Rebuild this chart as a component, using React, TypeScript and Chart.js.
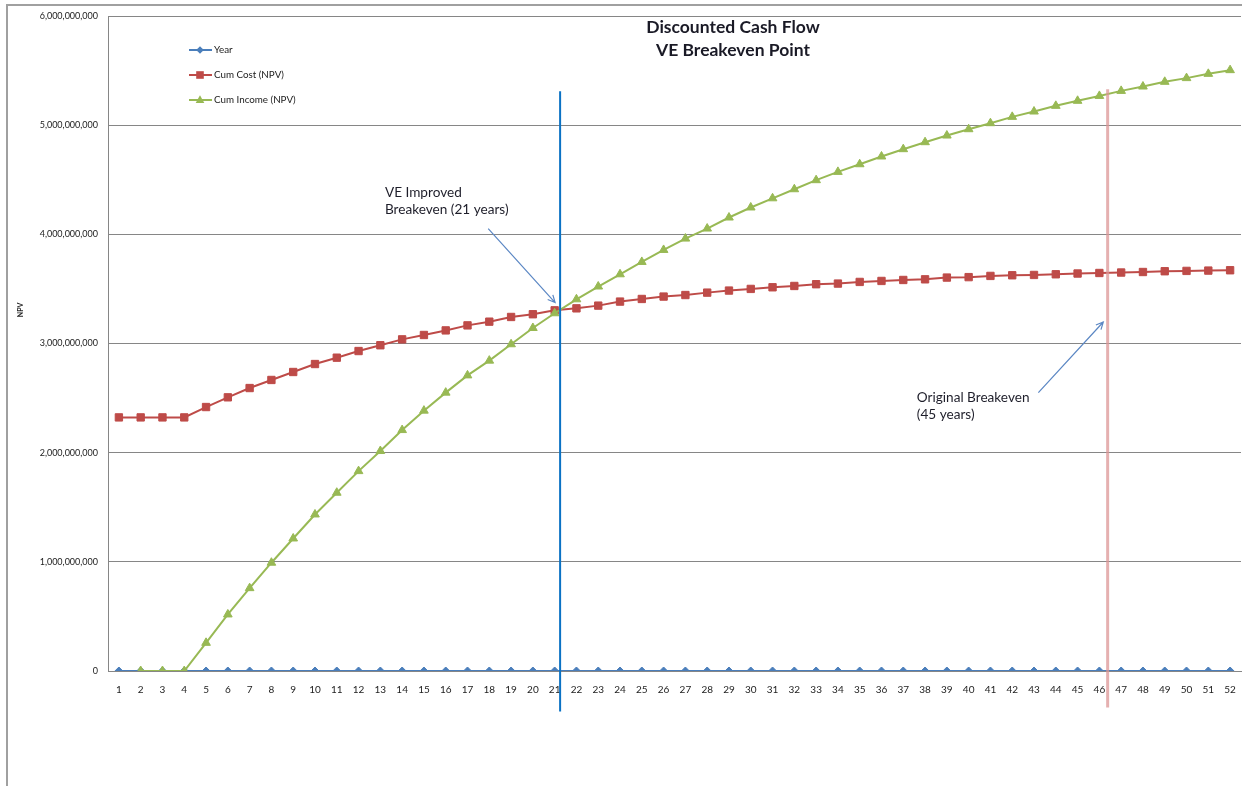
import React, { useEffect, useRef } from "react";
import { Chart, registerables } from "chart.js";

Chart.register(...registerables);

const categories = [
  "1", "2", "3", "4", "5", "6", "7", "8", "9", "10", "11", "12", "13",
  "14", "15", "16", "17", "18", "19", "20", "21", "22", "23", "24", "25", "26",
  "27", "28", "29", "30", "31", "32", "33", "34", "35", "36", "37", "38", "39",
  "40", "41", "42", "43", "44", "45", "46", "47", "48", "49", "50", "51", "52",
];

const yearValues = [
  1, 2, 3, 4, 5, 6, 7, 8, 9, 10, 11, 12, 13, 14, 15, 16, 17, 18, 19, 20, 21, 22, 23, 24, 25, 26,
  27, 28, 29, 30, 31, 32, 33, 34, 35, 36, 37, 38, 39, 40, 41, 42, 43, 44, 45, 46, 47, 48, 49, 50, 51, 52,
];

const cumCost = [
  2.323e9, 2.323e9, 2.323e9, 2.323e9, 2.418e9, 2.507e9, 2.592e9, 2.666e9, 2.739e9, 2.812e9,
  2.87e9, 2.931e9, 2.984e9, 3.038e9, 3.078e9, 3.12e9, 3.166e9, 3.2e9, 3.243e9, 3.268e9,
  3.304e9, 3.322e9, 3.347e9, 3.384e9, 3.408e9, 3.43e9, 3.444e9, 3.466e9, 3.485e9, 3.5e9,
  3.515e9, 3.527e9, 3.543e9, 3.549e9, 3.564e9, 3.573e9, 3.582e9, 3.588e9, 3.604e9, 3.608e9,
  3.619e9, 3.625e9, 3.628e9, 3.634e9, 3.641e9, 3.646e9, 3.65e9, 3.655e9, 3.662e9, 3.665e9,
  3.668e9, 3.671e9,
];

const cumIncome = [
  null, 0, 0, 0, 0.258e9, 0.518e9, 0.759e9, 0.992e9, 1.214e9, 1.434e9,
  1.633e9, 1.831e9, 2.015e9, 2.207e9, 2.385e9, 2.55e9, 2.708e9, 2.843e9, 2.993e9, 3.142e9,
  3.277e9, 3.405e9, 3.522e9, 3.634e9, 3.747e9, 3.857e9, 3.961e9, 4.053e9, 4.154e9, 4.246e9,
  4.33e9, 4.413e9, 4.496e9, 4.572e9, 4.642e9, 4.713e9, 4.78e9, 4.844e9, 4.905e9, 4.963e9,
  5.018e9, 5.076e9, 5.125e9, 5.177e9, 5.223e9, 5.268e9, 5.314e9, 5.354e9, 5.397e9, 5.431e9,
  5.47e9, 5.504e9,
];

const seriesNames = ["Year", "Cum Cost (NPV)", "Cum Income (NPV)"];
const titleLines = ["Discounted Cash Flow", "VE Breakeven Point"];
const yAxisTitle = "NPV";

// Reference lines: [category index (0-based, fractional), top value, bottom value]
const improvedLine = [20.25, 5.31e9, -0.371e9];
const originalLine = [45.38, 5.33e9, -0.335e9];

// Annotation texts: lines, category index (left edge), values (per line centre)
const improvedText = ["VE Improved", "Breakeven (21 years)"];
const improvedTextPos = [12.21, 4.386e9, 4.23e9];
const originalText = ["Original Breakeven", "(45 years)"];
const originalTextPos = [36.62, 2.504e9, 2.351e9];

// Arrows: [fromIndex, fromValue, toIndex, toValue]
const improvedArrow = [16.95, 4.053e9, 20.02, 3.375e9];
const originalArrow = [42.2, 2.55e9, 45.18, 3.197e9];

const BLUE = "#4a7ebb";
const RED = "#be4b48";
const GREEN = "#98b954";
const FONT = "Lato";

function drawMarker(ctx: CanvasRenderingContext2D, style: string, x: number, y: number, r: number, color: string) {
  ctx.save();
  ctx.fillStyle = color;
  ctx.beginPath();
  if (style === "diamond") {
    ctx.moveTo(x, y - r);
    ctx.lineTo(x + r, y);
    ctx.lineTo(x, y + r);
    ctx.lineTo(x - r, y);
  } else if (style === "square") {
    ctx.rect(x - r, y - r, 2 * r, 2 * r);
  } else {
    ctx.moveTo(x, y - r);
    ctx.lineTo(x + r * 0.9, y + r * 0.6);
    ctx.lineTo(x - r * 0.9, y + r * 0.6);
  }
  ctx.closePath();
  ctx.fill();
  ctx.restore();
}

function drawArrow(ctx: CanvasRenderingContext2D, x1: number, y1: number, x2: number, y2: number) {
  ctx.save();
  ctx.strokeStyle = "#5b87c4";
  ctx.lineWidth = 1.2;
  ctx.beginPath();
  ctx.moveTo(x1, y1);
  ctx.lineTo(x2, y2);
  const ang = Math.atan2(y2 - y1, x2 - x1);
  const len = 8;
  const spread = 0.45;
  ctx.moveTo(x2 - len * Math.cos(ang - spread), y2 - len * Math.sin(ang - spread));
  ctx.lineTo(x2, y2);
  ctx.lineTo(x2 - len * Math.cos(ang + spread), y2 - len * Math.sin(ang + spread));
  ctx.stroke();
  ctx.restore();
}

const overlayPlugin = {
  id: "overlay",
  beforeDraw(chart: any) {
    const ctx = chart.ctx as CanvasRenderingContext2D;
    ctx.save();
    ctx.fillStyle = "#ffffff";
    ctx.fillRect(0, 0, chart.width, chart.height);
    ctx.strokeStyle = "#a0a0a0";
    ctx.lineWidth = 2;
    ctx.strokeRect(7, 5, chart.width + 50, chart.height + 50);
    ctx.restore();
  },
  afterDatasetsDraw(chart: any) {
    const ctx = chart.ctx as CanvasRenderingContext2D;
    const xs = chart.scales.x;
    const ys = chart.scales.y;
    const area = chart.chartArea;

    // vertical reference lines
    ctx.save();
    ctx.strokeStyle = "rgba(220,150,150,0.75)";
    ctx.lineWidth = 3;
    ctx.beginPath();
    const px2 = xs.getPixelForValue(originalLine[0]);
    ctx.moveTo(px2, ys.getPixelForValue(originalLine[1]));
    ctx.lineTo(px2, ys.getPixelForValue(originalLine[2]));
    ctx.stroke();
    ctx.strokeStyle = "#0b72c4";
    ctx.lineWidth = 2;
    ctx.beginPath();
    const px1 = xs.getPixelForValue(improvedLine[0]);
    ctx.moveTo(px1, ys.getPixelForValue(improvedLine[1]));
    ctx.lineTo(px1, ys.getPixelForValue(improvedLine[2]));
    ctx.stroke();
    ctx.restore();

    // arrows
    for (const a of [improvedArrow, originalArrow]) {
      drawArrow(
        ctx,
        xs.getPixelForValue(a[0]),
        ys.getPixelForValue(a[1]),
        xs.getPixelForValue(a[2]),
        ys.getPixelForValue(a[3])
      );
    }

    // annotation texts
    ctx.save();
    ctx.fillStyle = "#1e1e2a";
    ctx.font = `13.6px ${FONT}`;
    ctx.textAlign = "left";
    ctx.textBaseline = "middle";
    const texts: [string[], number[]][] = [
      [improvedText, improvedTextPos],
      [originalText, originalTextPos],
    ];
    for (const [lines, pos] of texts) {
      const x = xs.getPixelForValue(pos[0]);
      lines.forEach((t, i) => ctx.fillText(t, x, ys.getPixelForValue(pos[1 + i])));
    }
    ctx.restore();

    // title
    ctx.save();
    ctx.fillStyle = "#1a1a26";
    ctx.font = `bold 17.5px ${FONT}`;
    ctx.textAlign = "center";
    ctx.textBaseline = "middle";
    ctx.fillText(titleLines[0], 733, area.top + 11);
    ctx.fillText(titleLines[1], 733, area.top + 34);
    ctx.restore();

    // legend
    const colors = [BLUE, RED, GREEN];
    const markers = ["diamond", "square", "triangle"];
    const radii = [3.8, 3.8, 4.8];
    ctx.save();
    ctx.font = `9.8px ${FONT}`;
    ctx.textBaseline = "middle";
    ctx.textAlign = "left";
    seriesNames.forEach((name, i) => {
      const y = area.top + 34 + i * 25;
      ctx.strokeStyle = colors[i];
      ctx.lineWidth = 2;
      ctx.beginPath();
      ctx.moveTo(189, y);
      ctx.lineTo(212, y);
      ctx.stroke();
      drawMarker(ctx, markers[i], 200, y, radii[i], colors[i]);
      ctx.fillStyle = "#222";
      ctx.fillText(name, 214, y);
    });
    ctx.restore();

    // y axis title
    ctx.save();
    ctx.fillStyle = "#222";
    ctx.font = `bold 7px ${FONT}`;
    ctx.translate(21, 310);
    ctx.rotate(-Math.PI / 2);
    ctx.textAlign = "center";
    ctx.textBaseline = "middle";
    ctx.fillText(yAxisTitle, 0, 0);
    ctx.restore();
  },
};

export default function App() {
  const canvasRef = useRef<HTMLCanvasElement | null>(null);

  useEffect(() => {
    const canvas = canvasRef.current;
    if (!canvas) return;
    const chart = new Chart(canvas, {
      type: "line",
      data: {
        labels: categories,
        datasets: [
          {
            label: seriesNames[0],
            data: yearValues,
            borderColor: BLUE,
            backgroundColor: BLUE,
            borderWidth: 2,
            pointStyle: "rectRot",
            pointRadius: 4,
            pointBorderWidth: 1,
            pointBackgroundColor: BLUE,
            pointBorderColor: BLUE,
            order: 3,
          },
          {
            label: seriesNames[1],
            data: cumCost,
            borderColor: RED,
            backgroundColor: RED,
            borderWidth: 2,
            pointStyle: "rect",
            pointRadius: 5.2,
            pointBorderWidth: 1,
            pointBackgroundColor: RED,
            pointBorderColor: RED,
            order: 2,
          },
          {
            label: seriesNames[2],
            data: cumIncome,
            borderColor: GREEN,
            backgroundColor: GREEN,
            borderWidth: 2,
            pointStyle: "triangle",
            pointRadius: 5,
            pointBorderWidth: 1,
            pointBackgroundColor: GREEN,
            pointBorderColor: GREEN,
            spanGaps: false,
            order: 1,
          },
        ],
      },
      options: {
        responsive: false,
        animation: false,
        devicePixelRatio: 1,
        layout: { autoPadding: false, padding: { left: 0, top: 16, right: 1, bottom: 0 } },
        plugins: {
          legend: { display: false },
          tooltip: { enabled: false },
          title: { display: false },
        },
        scales: {
          x: {
            type: "category",
            offset: true,
            grid: {
              display: true,
              drawOnChartArea: false,
              drawTicks: true,
              tickLength: 13,
              tickColor: "rgba(0,0,0,0)",
            },
            border: { display: true, color: "#868686", width: 1 },
            ticks: {
              color: "#222",
              font: { family: FONT, size: 10 },
              padding: 0,
              maxRotation: 0,
              autoSkip: false,
            },
            afterFit: (scale: any) => {
              scale.height = 115;
              scale.paddingLeft = 0;
              scale.paddingRight = 0;
            },
          },
          y: {
            min: 0,
            max: 6e9,
            grid: { color: "#868686", lineWidth: 1, drawTicks: false },
            border: { display: true, color: "#868686", width: 1 },
            ticks: {
              stepSize: 1e9,
              color: "#222",
              font: { family: FONT, size: 9 },
              padding: 10,
              callback: (v: any) => Number(v).toLocaleString("en-US"),
            },
            afterFit: (scale: any) => {
              scale.width = 108;
              scale.paddingTop = 0;
              scale.paddingBottom = 0;
            },
          },
        },
      },
      plugins: [overlayPlugin],
    });
    return () => chart.destroy();
  }, []);

  return (
    <div style={{ position: "absolute", left: 0, top: 0, width: 1242, height: 786, overflow: "hidden" }}>
      <canvas ref={canvasRef} width={1242} height={786} style={{ display: "block", width: 1242, height: 786 }} />
    </div>
  );
}
